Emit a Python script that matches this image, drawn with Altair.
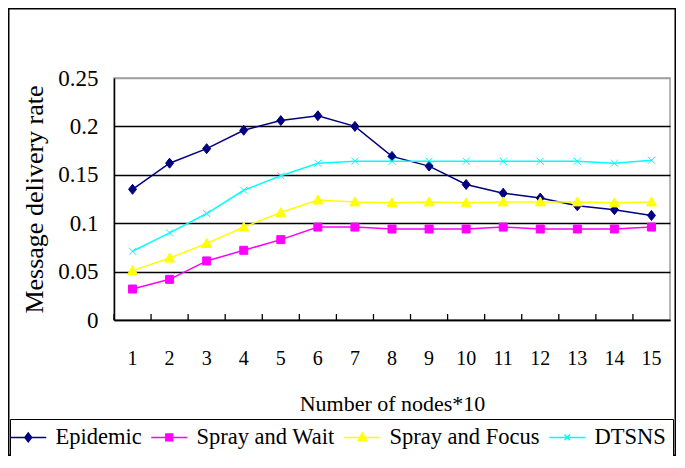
import altair as alt
import pandas as pd

categories = [str(i) for i in range(1, 16)]
series_names = ["Epidemic", "Spray and Wait", "Spray and Focus", "DTSNS"]
series_colors = ["#000080", "#FF00FF", "#FFFF00", "#00FFFF"]

epidemic = [0.135, 0.162, 0.177, 0.196, 0.206, 0.211, 0.200, 0.169, 0.159, 0.140, 0.131, 0.126, 0.118, 0.114, 0.108]
spray_wait = [0.032, 0.042, 0.061, 0.072, 0.083, 0.096, 0.096, 0.094, 0.094, 0.094, 0.096, 0.094, 0.094, 0.094, 0.096]
spray_focus = [0.051, 0.064, 0.079, 0.096, 0.111, 0.124, 0.122, 0.121, 0.122, 0.121, 0.122, 0.122, 0.122, 0.121, 0.122]
dtsns = [0.071, 0.090, 0.110, 0.134, 0.149, 0.162, 0.164, 0.164, 0.164, 0.164, 0.164, 0.164, 0.164, 0.162, 0.165]

y_ticks = [0, 0.05, 0.1, 0.15, 0.2, 0.25]

# marker shapes (plot) and line+marker shapes (legend)
marker_paths = [
    "M0,-1L0.8,0L0,1L-0.8,0Z",
    "M-0.8,-0.8H0.8V0.8H-0.8Z",
    "M0,-1L1,0.8H-1Z",
    "M-0.7,-0.7L0.7,0.7M-0.7,0.7L0.7,-0.7",
]
legend_paths = [
    "M-4.5,0H4.5M0,-1.1L0.85,0L0,1.1L-0.85,0Z",
    "M-4.5,0H4.5M-0.85,-0.85H0.85V0.85H-0.85Z",
    "M-4.5,0H4.5M0,-1.1L1.05,0.85H-1.05Z",
    "M-4.5,0H4.5M-0.7,-0.7L0.7,0.7M-0.7,0.7L0.7,-0.7",
]

rows = []
for name, vals in zip(series_names, [epidemic, spray_wait, spray_focus, dtsns]):
    for c, v in zip(categories, vals):
        rows.append({"cat": c, "value": v, "series": name})
df = pd.DataFrame(rows)
ticks_df = pd.DataFrame({"cat": categories})

FONT = "Liberation Serif"
W, H = 556, 242

x_enc = alt.X(
    "cat:O", sort=categories, bandPosition=0.5,
    scale=alt.Scale(type="band", paddingInner=0, paddingOuter=0),
    axis=alt.Axis(title="Number of nodes*10", ticks=False, labelAngle=0, grid=False,
                  domainColor="black", domainWidth=1.5,
                  labelFont=FONT, labelFontSize=20, labelColor="black", labelPadding=28,
                  titleFont=FONT, titleFontSize=22, titleFontWeight="normal", titleColor="black",
                  titlePadding=25),
)
y_enc = alt.Y(
    "value:Q", scale=alt.Scale(domain=[0, 0.25], nice=False),
    axis=alt.Axis(title="Message delivery rate", values=y_ticks, format="~g", ticks=False,
                  domainColor="black", domainWidth=1.5,
                  gridColor=alt.condition("datum.value >= 0.249", alt.value("#a0a0a0"), alt.value("black")),
                  gridWidth=1.3,
                  labelFont=FONT, labelFontSize=23, labelColor="black", labelPadding=16,
                  titleFont=FONT, titleFontSize=26, titleFontWeight="normal", titleColor="black",
                  titlePadding=10),
)

color_scale = alt.Scale(domain=series_names, range=series_colors)

frame = alt.Chart(alt.Data(values=[{"k": 1}])).mark_rect(
    fill="transparent", stroke="black", strokeWidth=1.5
).encode(
    x=alt.value(-105.25), x2=alt.value(561.25), y=alt.value(-69.25), y2=alt.value(377.25)
)

tick_rules = alt.Chart(ticks_df).mark_rule(color="black", strokeWidth=1.3).encode(
    x=alt.X("cat:O", sort=categories, bandPosition=0),
    y=alt.value(H), y2=alt.value(H - 6),
)

lines = alt.Chart(df).mark_line(strokeWidth=1.5).encode(
    x=x_enc, y=y_enc,
    color=alt.Color("series:N", scale=color_scale, legend=None),
)

points = alt.Chart(df).mark_point(filled=True, size=100, strokeWidth=1, opacity=1).encode(
    x=x_enc, y=y_enc,
    fill=alt.Fill("series:N", scale=alt.Scale(domain=series_names, range=series_colors), legend=None),
    stroke=alt.Stroke("series:N", scale=alt.Scale(domain=series_names, range=series_colors), legend=None),
    shape=alt.Shape("series:N", scale=alt.Scale(domain=series_names, range=marker_paths), legend=None),
)

leg = dict(orient="none", legendX=-104, legendY=341, direction="horizontal", title=None,
           labelFont=FONT, labelFontSize=22.5, labelColor="black", labelLimit=400,
           symbolSize=64, symbolStrokeWidth=1.5, symbolOpacity=1, labelOffset=16,
           columnPadding=6, padding=7, strokeColor="black", fillColor="white", cornerRadius=0)

legend_layer = alt.Chart(df).transform_calculate(legend="datum.series").transform_filter("false").mark_point(
    filled=True, size=64
).encode(
    x=alt.X("cat:O", sort=categories, bandPosition=0.5),
    y=alt.Y("value:Q"),
    fill=alt.Fill("legend:N", scale=alt.Scale(domain=series_names, range=series_colors), legend=alt.Legend(**leg)),
    stroke=alt.Stroke("legend:N", scale=alt.Scale(domain=series_names, range=series_colors), legend=alt.Legend(**leg)),
    shape=alt.Shape("legend:N", scale=alt.Scale(domain=series_names, range=legend_paths), legend=alt.Legend(**leg)),
)

chart = alt.layer(frame, lines, points, tick_rules, legend_layer).resolve_scale(
    fill="independent", stroke="independent", shape="independent"
).properties(
    width=W, height=H,
    padding={"left": 106, "top": 70, "right": 6, "bottom": 136},
    autosize=alt.AutoSizeParams(type="none"),
    background="white",
).configure_view(stroke="#a0a0a0", strokeWidth=1.5)

chart.save("out.html", embed_options={"renderer": "svg", "actions": False})
